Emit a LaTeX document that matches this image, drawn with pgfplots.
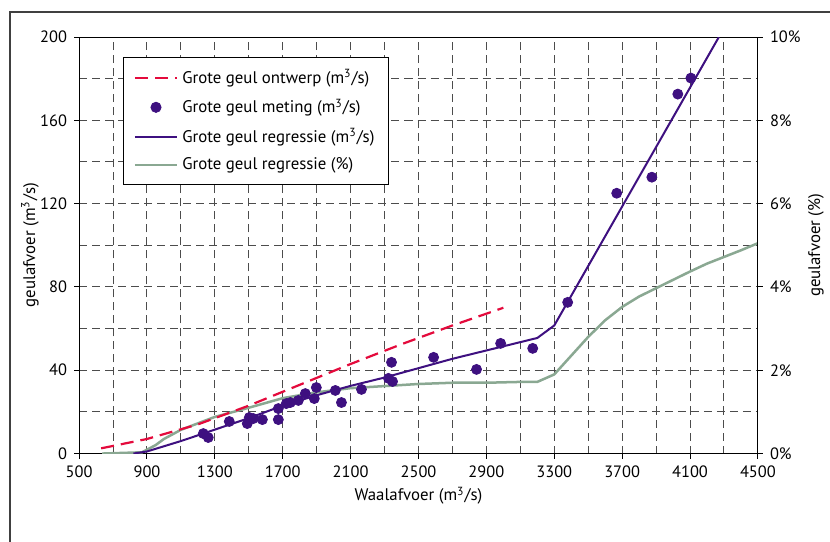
\documentclass[border=0pt]{standalone}
\usepackage{fontspec}
\setmainfont{PT Sans}
\usepackage{pgfplots}
\usepackage{pgfplotstable}
\pgfplotsset{compat=1.18}
\definecolor{cred}{RGB}{228,10,60}
\definecolor{cpurple}{RGB}{62,16,128}
\definecolor{cgray}{RGB}{138,168,146}
\pgfplotsset{dotlegend/.style={legend image code/.code={\draw[##1] plot coordinates {(10.5pt,0pt)};}}}

\pgfplotstableread{
x p
636 0
870 0.03
950 0.2
1000 0.35
1100 0.57
1300 0.88
1500 1.1
1700 1.33
1900 1.47
2100 1.57
2300 1.62
2500 1.67
2700 1.70
2900 1.70
3100 1.72
3200 1.72
3300 1.90
3400 2.35
3500 2.80
3600 3.20
3700 3.52
3800 3.77
3900 3.97
4000 4.17
4100 4.37
4200 4.56
4300 4.72
4400 4.88
4500 5.05
}\graydata

\begin{document}
\begin{tikzpicture}[font=\fontsize{8.4}{10}\selectfont]
\useasboundingbox (-39.5pt,-44pt) rectangle (375pt,226.5pt);
\fill[white] (-39.5pt,-44pt) rectangle (375pt,226.5pt);
\draw[black!75, line width=1pt] (-34.5pt,-50pt) -- (-34.5pt,220.5pt) -- (380pt,220.5pt);
\pgfplotsset{common/.style={
  width=339pt, height=208pt, scale only axis,
  xmin=500, xmax=4500,
  /pgf/number format/assume math mode=true,
  /pgf/number format/1000 sep={},
  tick style={black, line width=0.5pt},
  tick align=outside, major tick length=2.5pt, minor tick length=0pt,
  axis line style={line width=0.5pt},
  ticklabel style={font=\fontsize{8.2}{10}\selectfont},
  label style={font=\fontsize{8.4}{10}\selectfont},
}}
\begin{axis}[common,
  ymin=0, ymax=200,
  xtick={500,900,...,4500}, minor xtick={700,1100,...,4300},
  ytick={0,40,...,200}, minor ytick={20,60,...,180},
  tick pos=left,
  grid=both,
  grid style={black!70, line width=0.5pt, dash pattern=on 4pt off 2.5pt},
  major grid style={black!70, line width=0.5pt, dash pattern=on 4pt off 2.5pt},
  minor grid style={black!70, line width=0.5pt, dash pattern=on 4pt off 2.5pt},
  xlabel={Waalafvoer (m\textsuperscript{3}/s)},
  ylabel={geulafvoer (m\textsuperscript{3}/s)},
  xlabel style={at={(axis description cs:0.5,-0.101)}, anchor=center},
  ylabel style={at={(axis description cs:-0.0723,0.5)}, anchor=center},
  legend style={at={(rel axis cs:0.065,0.952)}, anchor=north west, draw=black, line width=0.5pt,
    fill=white, font=\fontsize{8.4}{10}\selectfont, row sep=2.2pt, inner xsep=5pt, inner ysep=4pt},
  legend cell align=left,
  legend image code/.code={\draw[#1] (0pt,0pt) -- (21pt,0pt);},
]
\addplot[cgray, line width=1.25pt, forget plot] table[x=x, y expr=\thisrow{p}*20] {\graydata};
\addplot[cred, line width=1.1pt, dash pattern=on 6.5pt off 3.5pt] coordinates {
(630,2.5) (900,7) (1200,14) (1500,23) (1800,33) (2100,43) (2400,52.5) (2700,61.5) (3000,70)};
\addlegendentry{Grote geul ontwerp (m\textsuperscript{3}/s)}
\addplot[only marks, mark=*, mark size=2.5pt, cpurple, mark options={draw=cpurple, fill=cpurple},
  dotlegend] coordinates {
(1232,9.6) (1261,7.7) (1385,15.4) (1491,14.4) (1503,17.3) (1527,16.8) (1580,16.3)
(1674,16.3) (1674,21.6) (1721,24.0) (1745,24.5) (1792,25.5) (1833,28.8) (1886,26.4)
(1898,31.7) (2010,30.3) (2046,24.5) (2164,30.8) (2323,36.1) (2347,34.6) (2341,43.8)
(2589,46.2) (2842,40.4) (2984,52.9) (3173,50.5) (3379,72.6) (3668,125) (3875,132.7)
(4028,172.6) (4105,180.3)};
\addlegendentry{Grote geul meting (m\textsuperscript{3}/s)}
\addplot[cpurple, line width=1pt] coordinates {
(820,0) (900,1) (1100,6) (1300,11.5) (1500,17) (1700,23) (1900,28) (2100,32.5)
(2300,36.5) (2500,41) (2700,45.5) (2900,49.5) (3100,53.5) (3200,55.5) (3300,61.5) (4270,200)};
\addlegendentry{Grote geul regressie (m\textsuperscript{3}/s)}
\addlegendimage{cgray, line width=1.25pt}
\addlegendentry{Grote geul regressie (\%)}
\end{axis}
\begin{axis}[common,
  axis x line=none, axis y line*=right,
  ymin=0, ymax=10, ytick={0,2,...,10},
  yticklabel={\pgfmathprintnumber{\tick}\%},
  ylabel={geulafvoer (\%)},
  ylabel style={at={(axis description cs:1.0855,0.5)}, anchor=center},
]
\end{axis}
\end{tikzpicture}
\end{document}
